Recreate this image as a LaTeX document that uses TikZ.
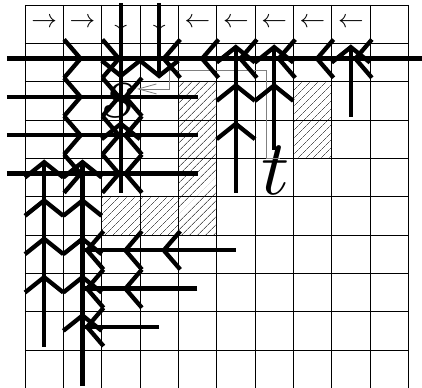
\documentclass[tikz,border=0pt]{standalone}
\usetikzlibrary{arrows.meta,patterns.meta}

\begin{document}
\begin{tikzpicture}[
  cell/.style={line width=.6pt},
  ray/.style={line width=3.2pt},
  route/.style={draw=black!50,line width=.6pt,-{Straight Barb[length=4.7mm,width=2.6mm]}},
  wall/.style={pattern={Lines[angle=45,distance=4pt,line width=.4pt]}},
  dir/.style={scale=1.9,inner sep=0pt},
  lab/.style={scale=5.8,inner sep=0pt,anchor=base}
]
\useasboundingbox (-0.652,-9.99) rectangle (10.357,0.13);
\fill[wall] (4,-2) rectangle (5,-6);
\fill[wall] (2,-5) rectangle (4,-6);
\fill[wall] (7,-2) rectangle (8,-4);
\foreach \i in {0,...,10} \draw[cell] (\i,0) -- (\i,-10);
\foreach \j in {0,...,9} \draw[cell] (0,-\j) -- (10,-\j);

\foreach \c/\a in {0/\rightarrow,1/\rightarrow,4/\leftarrow,5/\leftarrow,6/\leftarrow,7/\leftarrow,8/\leftarrow}
  \node[dir] (d\c) at (\c+0.5,-0.47) {$\a$};
\foreach \c in {2,3}
  \node[dir] (d\c) at (\c+0.5,-0.42) {$\downarrow$};

\node[lab] (s) at (2.45,-2.93) {$s$};
\node[lab] (t) at (6.55,-4.95) {$t$};
\coordinate (ts) at (6.65,-3.99);
\coordinate (st) at (2.92,-2.19);
\draw[route] (ts) -- ++(-0.34,0) |- (3.78,-1.70) |- (st);

\coordinate (w1) at (-0.47,-1.4);
\coordinate (e1) at (10.4,-1.4);
\draw[ray] (w1) -- (e1);
\foreach \r in {2,3,4} {
  \coordinate (w\r) at (-0.47,-\r-0.4);
  \coordinate (e\r) at (4.52,-\r-0.4);
  \draw[ray] (w\r) -- (e\r);
}
\foreach \r/\x in {6/5.5,7/4.5,8/3.5} {
  \coordinate (w\r) at (1.5,-\r-0.4);
  \coordinate (e\r) at (\x,-\r-0.4);
  \draw[ray] (e\r) -- (w\r);
}
\foreach \c/\lo/\hi in {0/-8.92/-4.1,1/-9.94/-4.1,2/-4.9/0.05,3/-1.85/0.05,5/-4.9/-1.1,6/-3.78/-1.1,8/-2.92/-1.1} {
  \coordinate (lo\c) at (\c+0.5,\lo);
  \coordinate (hi\c) at (\c+0.5,\hi);
  \draw[ray] (lo\c) -- (hi\c);
}

\foreach \c/\r in {1/1,2/1,1/2,2/2,1/3,2/3,1/4,2/4}
  \draw[ray] ({\c+0.02},{-\r+0.1}) -- ({\c+0.45},{-\r-0.4}) -- ({\c+0.02},{-\r-0.9});
\foreach \c/\r in {3/1,4/1,5/1,6/1,7/1,8/1,2/2,2/3,2/4,1/6,2/6,3/6,1/7,2/7,1/8}
  \draw[ray] ({\c+1.05},{-\r+0.1}) -- ({\c+0.62},{-\r-0.4}) -- ({\c+1.05},{-\r-0.9});
\foreach \c/\b in {0/4,0/5,0/6,0/7,1/4,1/5,1/6,1/7,1/8,2/3,5/1,5/2,5/3,6/1,6/2,8/1}
  \draw[ray] (\c,{-\b-0.5}) -- ({\c+0.5},{-\b-0.1}) -- ({\c+1},{-\b-0.5});
\foreach \c/\b in {2/2,3/2}
  \draw[ray] (\c,{-\b+0.55}) -- ({\c+0.5},{-\b+0.15}) -- ({\c+1},{-\b+0.55});
\end{tikzpicture}
\end{document}
